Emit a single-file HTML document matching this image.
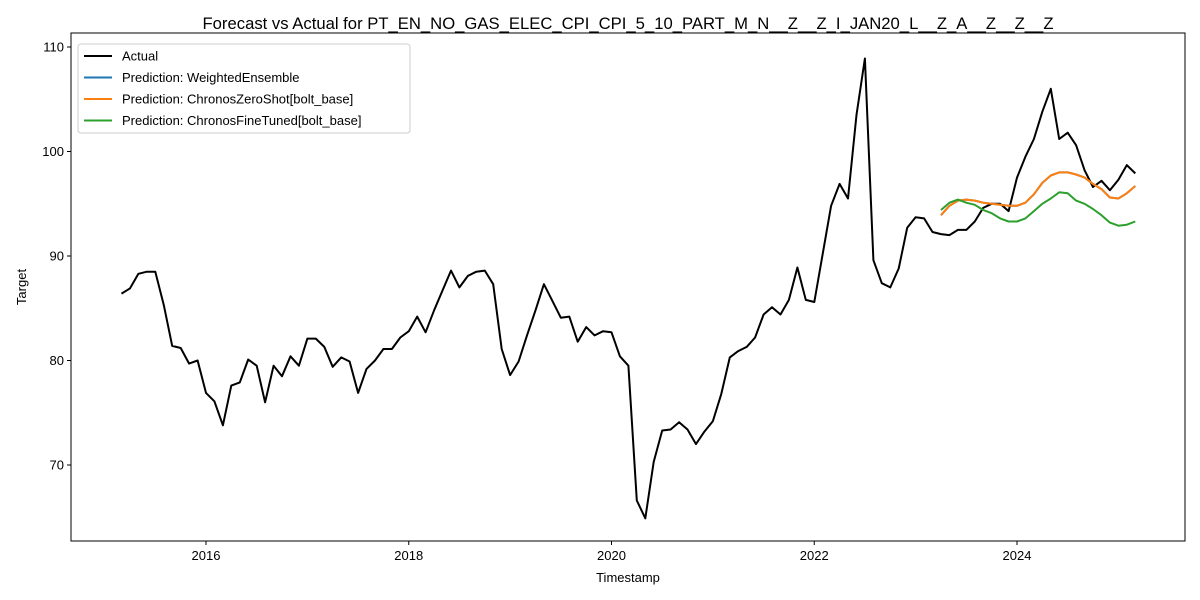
<!DOCTYPE html>
<html><head><meta charset="utf-8"><style>
body{margin:0;background:#fff;}
svg{display:block;font-family:"Liberation Sans","DejaVu Sans",sans-serif;}
</style></head><body>
<svg id="chart" width="1200" height="600" viewBox="0 0 1200 600"></svg>
<script>
const startYear = 2015, startMonth = 3;
const actualValues = [86.4,86.9,88.3,88.5,88.5,85.3,81.4,81.2,79.7,80.0,76.9,76.1,73.8,77.6,77.9,80.1,79.5,76.0,79.5,78.5,80.4,79.5,82.1,82.1,81.3,79.4,80.3,79.9,76.9,79.2,80.0,81.1,81.1,82.2,82.8,84.2,82.7,84.8,86.7,88.6,87.0,88.1,88.5,88.6,87.3,81.1,78.6,79.9,82.4,84.8,87.3,85.7,84.1,84.2,81.8,83.2,82.4,82.8,82.7,80.4,79.5,66.6,64.9,70.3,73.3,73.4,74.1,73.4,72.0,73.2,74.2,76.8,80.3,80.9,81.3,82.2,84.4,85.1,84.4,85.8,88.9,85.8,85.6,90.2,94.8,96.9,95.5,103.5,108.9,89.6,87.4,87.0,88.8,92.7,93.7,93.6,92.3,92.1,92.0,92.5,92.5,93.3,94.6,95.0,95.0,94.3,97.5,99.5,101.2,103.8,106.0,101.2,101.8,100.6,98.2,96.6,97.2,96.3,97.3,98.7,97.9];
const predStartIndex = 97;
const ensembleValues = [93.9,94.8,95.3,95.4,95.3,95.1,95.0,94.9,94.8,94.8,95.1,95.9,97.0,97.7,98.0,98.0,97.8,97.5,96.9,96.4,95.6,95.5,96.0,96.7];
const zeroShotValues = [93.9,94.8,95.3,95.4,95.3,95.1,95.0,94.9,94.8,94.8,95.1,95.9,97.0,97.7,98.0,98.0,97.8,97.5,96.9,96.4,95.6,95.5,96.0,96.7];
const fineTunedValues = [94.4,95.1,95.4,95.1,94.9,94.4,94.1,93.6,93.3,93.3,93.6,94.3,95.0,95.5,96.1,96.0,95.3,95.0,94.5,93.9,93.2,92.9,93.0,93.3];
const yTicks = [70,80,90,100,110];
const xTicks = [2016,2018,2020,2022,2024];

const NS="http://www.w3.org/2000/svg";
const svg=document.getElementById('chart');
function el(tag,attrs,parent){const e=document.createElementNS(NS,tag);for(const k in attrs)e.setAttribute(k,attrs[k]);(parent||svg).appendChild(e);return e;}
const L=71,R=1185,T=33,B=541;
const xS=t=>206+(t-2016)*101.375;
const yS=v=>465-(v-70)*10.45;
const tOf=i=>startYear+(startMonth-1+i)/12;

let t=el('text',{x:628,y:29,'text-anchor':'middle','font-size':17,textLength:851,lengthAdjust:'spacingAndGlyphs'});
t.textContent='Forecast vs Actual for PT_EN_NO_GAS_ELEC_CPI_CPI_5_10_PART_M_N__Z__Z_I_JAN20_L__Z_A__Z__Z__Z';



yTicks.forEach(v=>{
  const y=yS(v);
  const ln=el('line',{x1:L-4,x2:L,y1:y,y2:y,stroke:'#000'});
  
  
  const tx=el('text',{x:L-7,y:y+4.5,'text-anchor':'end','font-size':13});
  tx.textContent=v;
  
  
});
xTicks.forEach(v=>{
  const x=xS(v);
  const ln=el('line',{x1:x,x2:x,y1:B,y2:B+4,stroke:'#000'});
  
  
  const tx=el('text',{x:x,y:B+19,'text-anchor':'middle','font-size':13});
  tx.textContent=v;
  
  
});
let xl=el('text',{x:628,y:582,'text-anchor':'middle','font-size':13});
xl.textContent='Timestamp';


let yl=el('text',{x:26,y:287,'text-anchor':'middle','font-size':13,transform:'rotate(-90 26 287)'});
yl.textContent='Target';



function series(vals,offset,color,name){
  const pts=vals.map((v,i)=>xS(tOf(i+offset)).toFixed(1)+','+yS(v).toFixed(1)).join(' ');
  const p=el('polyline',{points:pts,fill:'none',stroke:color,'stroke-width':2,'stroke-linejoin':'round'});
  
  
}
series(actualValues,0,'#000','actual-line');
series(ensembleValues,predStartIndex,'#1f77b4','weighted-ensemble-line');
series(zeroShotValues,predStartIndex,'#ff7f0e','chronos-zeroshot-line');
series(fineTunedValues,predStartIndex,'#2ca02c','chronos-finetuned-line');

const frame=el('rect',{x:L,y:T,width:R-L,height:B-T,fill:'none',stroke:'#000','stroke-width':1});



const lg=el('g',{});


el('rect',{x:78,y:44,width:332,height:89,rx:3,fill:'#fff',stroke:'#ccc'},lg);
const entries=[['Actual','#000'],['Prediction: WeightedEnsemble','#1f77b4'],['Prediction: ChronosZeroShot[bolt_base]','#ff7f0e'],['Prediction: ChronosFineTuned[bolt_base]','#2ca02c']];
entries.forEach((e,i)=>{
  const y=56+i*21.5;
  const g=el('g',{},lg);
  
  
  el('line',{x1:84,x2:112,y1:y,y2:y,stroke:e[1],'stroke-width':2},g);
  const tx=el('text',{x:122,y:y+4.5,'font-size':13},g);
  tx.textContent=e[0];
});
</script>
</body></html>
